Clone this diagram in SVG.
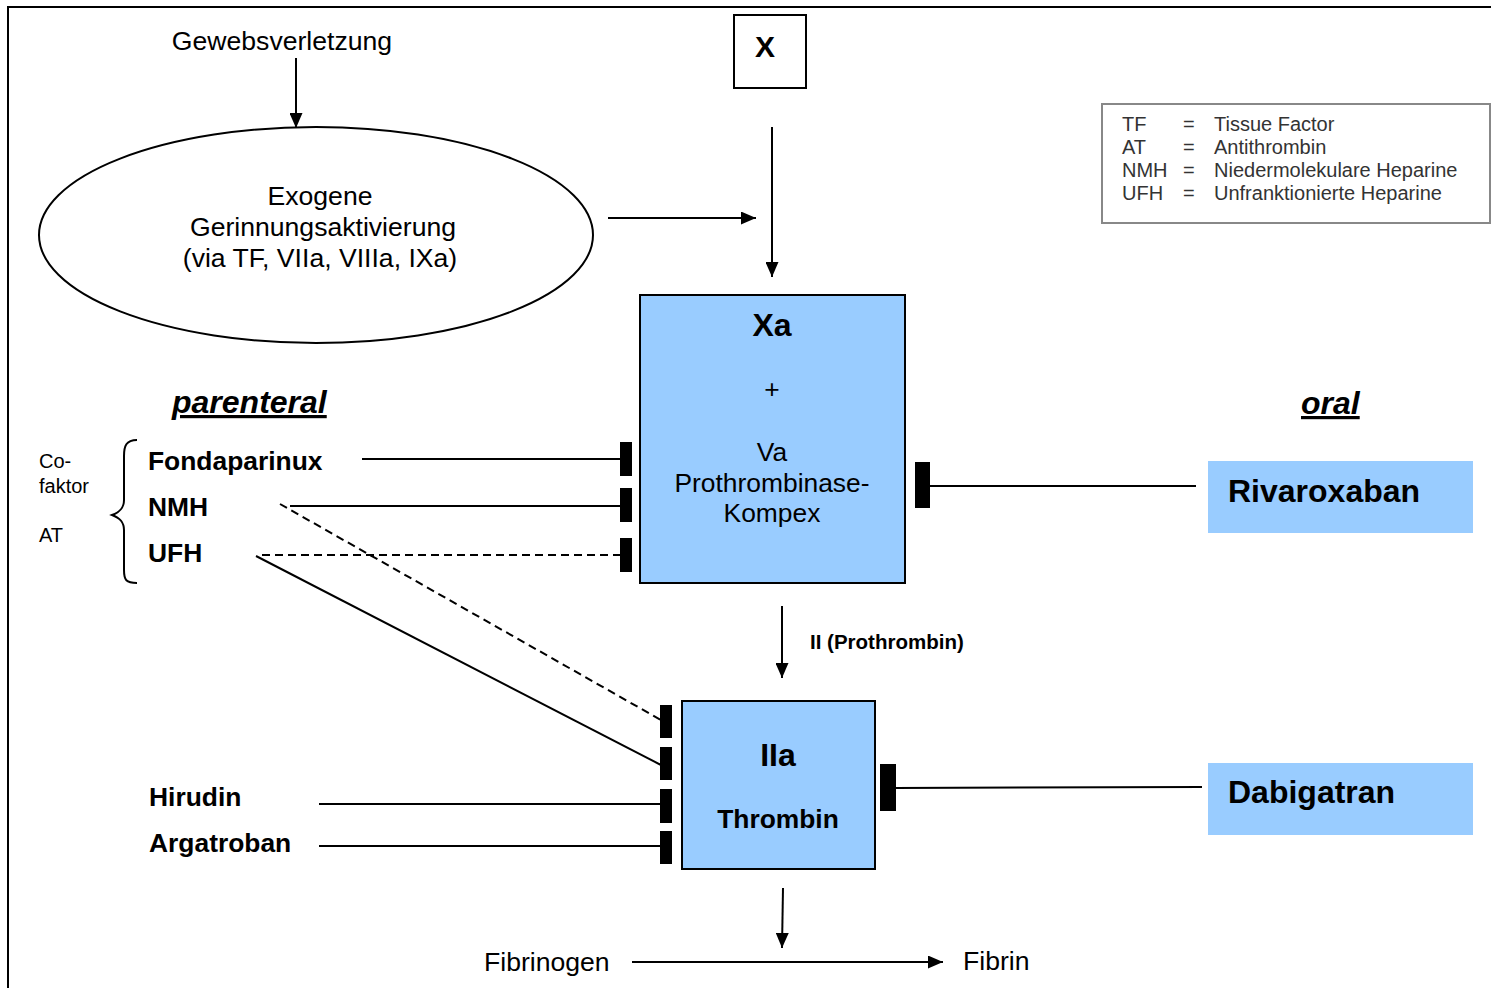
<svg xmlns="http://www.w3.org/2000/svg" width="1491" height="988" viewBox="0 0 1491 988">
<style>
text{font-family:"Liberation Sans",Arial,sans-serif;fill:#000}
.n{font-size:26.6px}
.b{font-size:26.4px;font-weight:bold}
.big{font-size:32px;font-weight:bold}
.lg{font-size:20px;fill:#333}
.sm{font-size:20px}
.hd{font-size:32px;font-weight:bold;font-style:italic;text-decoration:underline}
.bx{font-size:26.4px}
.ln{stroke:#000;stroke-width:2;fill:none}
.ds{stroke:#000;stroke-width:2;fill:none;stroke-dasharray:8 5}
.box{fill:#99ccff;stroke:#000;stroke-width:2}
.drug{fill:#99ccff}
</style>
<defs>
<marker id="ah" markerUnits="userSpaceOnUse" markerWidth="15" markerHeight="13" refX="15" refY="6.5" orient="auto">
<path d="M0,0 L15,6.5 L0,13 Z" fill="#000"/>
</marker>
</defs>
<rect width="1491" height="988" fill="#fff"/>
<path d="M8,988 V7 H1491" class="ln"/>

<g id="gewebsverletzung"><text class="n" x="282" y="50" text-anchor="middle">Gewebsverletzung</text></g>
<g id="exogen">
<ellipse cx="316" cy="235" rx="277" ry="108" class="ln"/>
<text class="n" x="320" y="205" text-anchor="middle">Exogene</text>
<text class="n" x="323" y="236" text-anchor="middle">Gerinnungsaktivierung</text>
<text class="n" x="320" y="267" text-anchor="middle">(via TF, VIIa, VIIIa, IXa)</text>
</g>
<g id="x"><rect x="734" y="15" width="72" height="73" class="ln"/><text x="765" y="57" text-anchor="middle" style="font-size:30px;font-weight:bold">X</text></g>
<g id="legend">
<rect x="1102" y="104" width="388" height="119" fill="none" stroke="#888" stroke-width="2"/>
<text class="lg" x="1122" y="131">TF</text><text class="lg" x="1183" y="131">=</text><text class="lg" x="1214" y="131">Tissue Factor</text>
<text class="lg" x="1122" y="154">AT</text><text class="lg" x="1183" y="154">=</text><text class="lg" x="1214" y="154">Antithrombin</text>
<text class="lg" x="1122" y="177">NMH</text><text class="lg" x="1183" y="177">=</text><text class="lg" x="1214" y="177">Niedermolekulare Heparine</text>
<text class="lg" x="1122" y="200">UFH</text><text class="lg" x="1183" y="200">=</text><text class="lg" x="1214" y="200">Unfranktionierte Heparine</text>
</g>
<g id="xa">
<rect x="640" y="295" width="265" height="288" class="box"/>
<text class="big" x="772" y="336" text-anchor="middle">Xa</text>
<text class="bx" x="772" y="398" text-anchor="middle">+</text>
<text class="bx" x="772" y="461" text-anchor="middle">Va</text>
<text class="bx" x="772" y="492" text-anchor="middle">Prothrombinase-</text>
<text class="bx" x="772" y="522" text-anchor="middle">Kompex</text>
</g>
<g id="iia">
<rect x="682" y="701" width="193" height="168" class="box"/>
<text class="big" x="778" y="766" text-anchor="middle">IIa</text>
<text class="b" x="778" y="828" text-anchor="middle">Thrombin</text>
</g>
<g id="parenteral"><text class="hd" x="172" y="413">parenteral</text></g>
<g id="oral"><text class="hd" x="1301" y="414">oral</text></g>
<g id="cofaktor">
<text class="sm" x="39" y="468">Co-</text>
<text class="sm" x="39" y="493">faktor</text>
<text class="sm" x="39" y="542">AT</text>
<path d="M137,440 C126,440 124,446 124,456 V500 C124,508 120,512 112,515 C120,518 124,522 124,530 V570 C124,580 126,583 137,583" class="ln"/>
</g>
<g id="fondaparinux"><text class="b" x="148" y="470">Fondaparinux</text></g>
<g id="nmh"><text class="b" x="148" y="516">NMH</text></g>
<g id="ufh"><text class="b" x="148" y="562">UFH</text></g>
<g id="hirudin"><text class="b" x="149" y="806">Hirudin</text></g>
<g id="argatroban"><text class="b" x="149" y="852">Argatroban</text></g>
<g id="rivaroxaban"><rect x="1208" y="461" width="265" height="72" class="drug"/><text class="big" x="1228" y="502">Rivaroxaban</text></g>
<g id="dabigatran"><rect x="1208" y="763" width="265" height="72" class="drug"/><text class="big" x="1228" y="803">Dabigatran</text></g>
<g id="fibrinogen"><text class="n" x="484" y="971">Fibrinogen</text></g>
<g id="fibrin"><text class="n" x="963" y="970">Fibrin</text></g>
<g id="prothrombin-label"><text x="810" y="649" style="font-size:20.5px;font-weight:bold">II (Prothrombin)</text></g>

<g id="connectors">
<line x1="296" y1="58" x2="296" y2="128" class="ln" marker-end="url(#ah)"/>
<line x1="608" y1="218" x2="756" y2="218" class="ln" marker-end="url(#ah)"/>
<line x1="772" y1="127" x2="772" y2="277" class="ln" marker-end="url(#ah)"/>
<line x1="782" y1="606" x2="782" y2="678" class="ln" marker-end="url(#ah)"/>
<line x1="783" y1="888" x2="782" y2="948" class="ln" marker-end="url(#ah)"/>
<line x1="632" y1="962" x2="943" y2="962" class="ln" marker-end="url(#ah)"/>
<line x1="362" y1="459" x2="621" y2="459" class="ln"/>
<rect x="620" y="442" width="12" height="34"/>
<line x1="290" y1="506" x2="621" y2="506" class="ln"/>
<rect x="620" y="488" width="12" height="34"/>
<line x1="262" y1="555" x2="621" y2="555" class="ds"/>
<rect x="620" y="538" width="12" height="34"/>
<line x1="930" y1="486" x2="1196" y2="486" class="ln"/>
<rect x="915" y="462" width="15" height="46"/>
<line x1="280" y1="504" x2="668" y2="724" class="ds"/>
<rect x="660" y="705" width="12" height="33"/>
<line x1="256" y1="556" x2="661" y2="765" class="ln"/>
<rect x="660" y="747" width="12" height="33"/>
<line x1="319" y1="804" x2="661" y2="804" class="ln"/>
<rect x="660" y="789" width="12" height="34"/>
<line x1="319" y1="846" x2="661" y2="846" class="ln"/>
<rect x="660" y="831" width="12" height="33"/>
<line x1="895" y1="788" x2="1202" y2="787" class="ln"/>
<rect x="880" y="764" width="16" height="47"/>
</g>
</svg>
